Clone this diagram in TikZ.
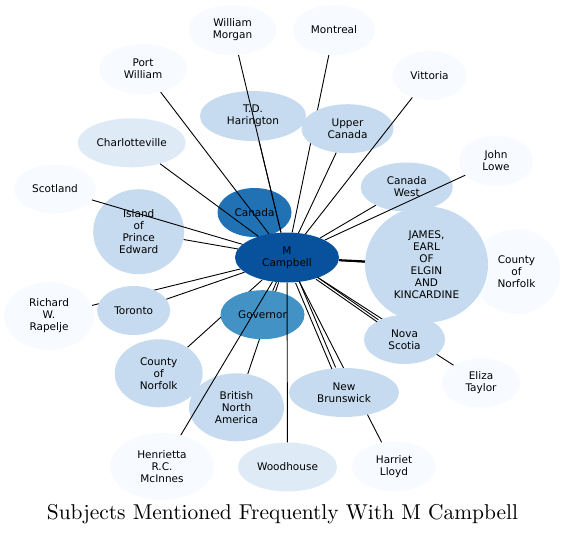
\documentclass[tikz,border=0pt]{standalone}
\usepackage{fontspec}
\newfontfamily\nodefont{DejaVu Sans}
\usetikzlibrary{shapes.geometric}
\definecolor{b1}{HTML}{08519C}
\definecolor{b2}{HTML}{2171B5}
\definecolor{b3}{HTML}{4292C6}
\definecolor{b4}{HTML}{C6DBEF}
\definecolor{b5}{HTML}{DEEBF7}
\definecolor{b6}{HTML}{F7FBFF}
\pgfdeclarelayer{edgesback}
\pgfsetlayers{edgesback,main}
\tikzset{
  ent/.style n args={3}{ellipse, minimum width=#1pt, minimum height=#2pt, inner sep=0pt, fill=#3, draw=none, align=center, font=\nodefont\fontsize{10.5}{12}\selectfont},
  link/.style={line width=0.9pt, draw=black},
  heavylink/.style={line width=2pt, draw=black},
  titletext/.style={font=\fontsize{10}{12}\selectfont, inner sep=0pt},
}
\begin{document}
\begin{tikzpicture}[x=1pt,y=-1pt]
\useasboundingbox (0,0) rectangle (566,536);
% lightest nodes
\node[ent={88}{50}{b6}] (wmorgan) at (232.5,30) {William\\Morgan};
\node[ent={82}{50}{b6}] (montreal) at (334,30) {Montreal};
\node[ent={88}{50}{b6}] (portw) at (143,69) {Port\\William};
\node[ent={74}{49}{b6}] (vittoria) at (429.5,75.5) {Vittoria};
\node[ent={74}{50}{b6}] (jlowe) at (496,161) {John\\Lowe};
\node[ent={82}{49}{b6}] (scotland) at (55,189) {Scotland};
\node[ent={88}{85}{b6}] (norfR) at (516.5,271.5) {County\\of\\Norfolk};
\node[ent={90}{68}{b6}] (richard) at (49,316) {Richard\\W.\\Rapelje};
\node[ent={78}{49}{b6}] (eliza) at (481,383) {Eliza\\Taylor};
\node[ent={104}{67}{b6}] (henrietta) at (162,466.5) {Henrietta\\R.C.\\McInnes};
\node[ent={84}{50}{b6}] (harriet) at (394,466.5) {Harriet\\Lloyd};
% light nodes
\node[ent={108}{49}{b5}] (charl) at (131.7,142.8) {Charlotteville};
\node[ent={99}{49}{b5}] (woodhouse) at (287.5,467) {Woodhouse};
% medium light nodes
\node[ent={106}{50}{b4}] (tdh) at (253,116) {T.D.\\Harington};
\node[ent={92}{49}{b4}] (upper) at (347.5,128.7) {Upper\\Canada};
\node[ent={123}{116}{b4}] (james) at (426.5,264.5) {JAMES,\\EARL\\OF\\ELGIN\\AND\\KINCARDINE};
\node[ent={92}{49}{b4}] (cwest) at (406.8,187) {Canada\\West};
\node[ent={81}{49}{b4}] (nscotia) at (404.5,339.5) {Nova\\Scotia};
\node[ent={91}{85}{b4}] (island) at (138.7,231.7) {Island\\of\\Prince\\Edward};
\node[ent={73}{49}{b4}] (toronto) at (133.7,310.5) {Toronto};
\node[ent={88}{68}{b4}] (norfL) at (158.7,373.3) {County\\of\\Norfolk};
\node[ent={95}{68}{b4}] (bna) at (236.5,407.3) {British\\North\\America};
\node[ent={110}{49}{b4}] (nbruns) at (344,392.5) {New\\Brunswick};
% dark nodes
\node[ent={74}{49}{b2}] (canada) at (254.5,212.5) {Canada};
\node[ent={84}{49}{b3}] (gov) at (262.5,314.7) {Governor};
\node[ent={104}{50}{b1}] (c) at (287,257.5) {M\\Campbell};
% edges hidden below nodes
\begin{pgfonlayer}{edgesback}
\draw[link] (c) -- (canada);
\draw[link] (c) -- (gov);
\draw[link] (c) -- (richard);
\draw[link] (c) -- (montreal);
\draw[link] (c) -- (norfL);
\draw[link] (c) -- (bna);
\draw[link] (c) -- (harriet);
\draw[link] (c) -- (eliza);
\draw[link] (c) -- (norfR);
\end{pgfonlayer}
% edges drawn over nodes
\draw[link] (c) -- (scotland);
\draw[link] (c) -- (portw);
\draw[link] (c) -- (charl);
\draw[link] (c) -- (wmorgan);
\draw[link] (c) -- (tdh);
\draw[link] (c) -- (vittoria);
\draw[link] (c) -- (upper);
\draw[link] (c) -- (cwest);
\draw[link] (c) -- (jlowe);
\draw[link] (c) -- (island);
\draw[link] (c) -- (toronto);
\draw[link] (c) -- (henrietta);
\draw[link] (c) -- (woodhouse);
\draw[link, transform canvas={shift={(1.84,-0.78)}}] (c) -- (nbruns);
\draw[link, transform canvas={shift={(-1.84,0.78)}}] (c) -- (nbruns);
\draw[link, transform canvas={shift={(0.68,-0.99)}}] (c) -- (nscotia);
\draw[link, transform canvas={shift={(-0.68,0.99)}}] (c) -- (nscotia);
\draw[heavylink] (c) -- (james);
% title
\node[titletext] (title) at (282.5,514) {\scalebox{2.145}{Subjects Mentioned Frequently With M Campbell}};
\end{tikzpicture}
\end{document}
